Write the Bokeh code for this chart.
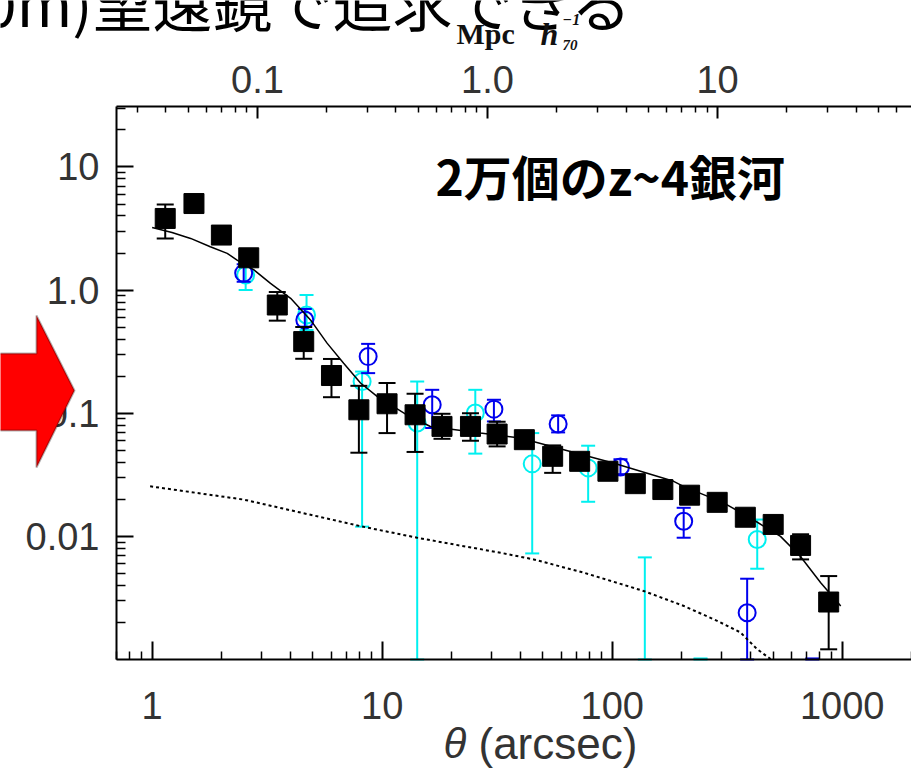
import math
from bokeh.plotting import figure
from bokeh.models import (Range1d, LogAxis, LogScale, FixedTicker, CustomJSTickFormatter,
                          Label, PolyAnnotation)
from bokeh.embed import file_html
from bokeh.resources import INLINE

nan = float("nan")

# ---------------- data ----------------
# black squares: ~20000 z~4 galaxies
theta_sq = [1.14, 1.52, 2.0, 2.63, 3.5, 4.56, 6.02, 7.92, 10.5, 13.9, 18.2, 24.2, 31.6,
            41.5, 55.1, 72.2, 95.8, 126, 166, 217, 286, 379, 501, 659, 873]
w_sq = [3.82, 5.05, 2.80, 1.83, 0.757, 0.382, 0.2025, 0.1067, 0.1194, 0.0972, 0.0782, 0.0782,
        0.0678, 0.061, 0.0447, 0.0407, 0.0338, 0.0268, 0.024, 0.0216, 0.0189, 0.0143,
        0.0125, 0.00844, 0.00293]
w_sq_hi = [4.96, 5.6, 3.1, 2.02, 0.965, 0.502, 0.276, 0.167, 0.176, 0.144, 0.099, 0.100,
           0.0853, 0.0709, 0.0548, 0.0465, 0.0386, 0.0306, 0.0274, 0.0243, 0.0214, 0.0162,
           0.0141, 0.0104, 0.00476]
w_sq_lo = [2.63, 4.55, 2.53, 1.65, 0.565, 0.277, 0.135, 0.0478, 0.069, 0.0485, 0.062, 0.0598,
           0.0538, 0.0526, 0.0328, 0.0356, 0.0296, 0.0235, 0.021, 0.0192, 0.0167, 0.0126,
           0.0111, 0.0065, 0.00121]

# blue open circles
theta_bl = [2.50, 4.61, 8.69, 16.5, 30.6, 58.2, 108.6, 204.5, 386, 741]
w_bl = [1.375, 0.572, 0.2886, 0.1172, 0.108, 0.0817, 0.0366, 0.01328, 0.0024, nan]
w_bl_hi = [1.62, 0.703, 0.366, 0.155, 0.1287, 0.0961, 0.0423, 0.01706, 0.00453, 0.00102]
w_bl_lo = [1.17, 0.505, 0.2118, 0.0759, 0.0858, 0.0699, 0.032, 0.00975, 0.001, 0.001]

# cyan open circles
theta_cy = [2.55, 4.69, 8.18, 14.2, 25.4, 44.9, 78.6, 138.6, 242, 427]
w_cy = [1.326, 0.628, 0.181, 0.0833, 0.1004, 0.0388, 0.036, nan, nan, 0.00944]
w_cy_hi = [1.66, 0.913, 0.218, 0.181, 0.155, 0.069, 0.0545, 0.00675, 0.00102, 0.0137]
w_cy_lo = [1.0, 0.474, 0.0120, 0.001, 0.047, 0.00727, 0.0191, 0.001, 0.001, 0.00546]

# solid model curve
model_theta = [1.0, 1.22, 1.47, 1.79, 2.12, 2.34, 2.77, 3.27, 4.0, 4.88, 5.76, 6.8, 8.05, 9.5,
               12.8, 16.2, 26.7, 39.8, 61.6, 101, 185, 204, 305, 399, 539, 657, 806, 985]
model_w = [3.23, 2.94, 2.63, 2.25, 1.99, 1.75, 1.46, 1.135, 0.858, 0.573, 0.371, 0.255, 0.176,
           0.137, 0.0972, 0.078, 0.069, 0.063, 0.0506, 0.0395, 0.028, 0.0255, 0.0187, 0.0141,
           0.0100, 0.0069, 0.0042, 0.00272]

# dotted curve
dot_theta = [0.98, 2.5, 8.05, 14.2, 19.8, 32.7, 45.6, 75.3, 137, 205, 286, 361, 427, 488]
dot_w = [0.0255, 0.0199, 0.0121, 0.00975, 0.0087, 0.00736, 0.0065, 0.00507, 0.0036, 0.00272,
         0.00206, 0.00166, 0.00121, 0.00101]

x_tick_values = [1, 10, 100, 1000]
x_tick_labels = ["1", "10", "100", "1000"]
y_tick_values = [0.01, 0.1, 1, 10]
y_tick_labels = ["0.01", "0.1", "1.0", "10"]
mpc_tick_values = [0.1, 1, 10]
mpc_tick_labels = ["0.1", "1.0", "10"]
ARCSEC_PER_MPC = 28.7

title_text = "(30m)望遠鏡で追求できる"
note_text = "2万個のz~4銀河"
x_title_sym = "θ"
x_title_unit = "(arcsec)"

# ---------------- layout ----------------
W, H = 911, 775
AX_L, AX_R, AX_T, AX_B = 116, 911, 106, 659     # box drawn by the axes, in canvas pixels
TH_LO, TH_HI = 0.7, 2000.0
W_LO, W_HI = 0.001, 31.0

LX_PX = (math.log10(TH_HI) - math.log10(TH_LO)) / (AX_R - AX_L)
LY_PX = (math.log10(W_HI) - math.log10(W_LO)) / (AX_B - AX_T)
X_FULL = (10 ** (math.log10(TH_LO) - AX_L * LX_PX), 10 ** (math.log10(TH_HI) + (W - AX_R) * LX_PX))
Y_FULL = (10 ** (math.log10(W_LO) - (H - AX_B) * LY_PX), 10 ** (math.log10(W_HI) + AX_T * LY_PX))


def ref(rx, ry):
    """canvas pixel -> data coordinates (for annotations only)"""
    return (10 ** (math.log10(X_FULL[0]) + rx * LX_PX),
            10 ** (math.log10(Y_FULL[1]) - ry * LY_PX))


def minor_ticks(lo, hi):
    out = []
    for e in range(-4, 5):
        for m in range(2, 10):
            v = m * 10.0 ** e
            if lo <= v <= hi:
                out.append(v)
    return out


def formatter(vals, labs):
    return CustomJSTickFormatter(args=dict(vals=vals, labs=labs), code="""
        for (let i = 0; i < vals.length; i++) {
            if (Math.abs(Math.log10(tick) - Math.log10(vals[i])) < 1e-6) return labs[i];
        }
        return "";
    """)


p = figure(width=W, height=H, x_axis_type="log", y_axis_type="log",
           x_range=Range1d(*X_FULL), y_range=Range1d(*Y_FULL),
           x_axis_location=None, y_axis_location=None, title=None,
           output_backend="svg", toolbar_location=None,
           min_border_left=0, min_border_right=0, min_border_top=0, min_border_bottom=0)
p.grid.visible = False
p.outline_line_color = None
p.background_fill_color = "white"
p.border_fill_color = "white"

p.extra_x_ranges = {"mpc": Range1d(X_FULL[0] / ARCSEC_PER_MPC, X_FULL[1] / ARCSEC_PER_MPC)}
p.extra_x_scales = {"mpc": LogScale()}

TICK_FONT = "Liberation Sans"
TEXT_GREY = "#333333"


def style_axis(ax, major_in, minor_in, standoff):
    ax.axis_line_width = 2
    ax.axis_line_color = "black"
    ax.major_tick_in = major_in
    ax.major_tick_out = 0
    ax.minor_tick_in = minor_in
    ax.minor_tick_out = 0
    ax.major_tick_line_width = 2
    ax.minor_tick_line_width = 1.5
    ax.major_tick_line_color = "black"
    ax.minor_tick_line_color = "black"
    ax.major_label_text_font = TICK_FONT
    ax.major_label_text_font_size = "38px"
    ax.major_label_text_color = TEXT_GREY
    ax.major_label_standoff = standoff


bottom = LogAxis(fixed_location=W_LO, bounds=(TH_LO, TH_HI),
                 ticker=FixedTicker(ticks=x_tick_values, minor_ticks=minor_ticks(TH_LO, TH_HI)),
                 formatter=formatter(x_tick_values, x_tick_labels))
style_axis(bottom, 18, 8, 32)
p.add_layout(bottom, "below")

left = LogAxis(fixed_location=TH_LO, bounds=(W_LO, W_HI),
               ticker=FixedTicker(ticks=y_tick_values, minor_ticks=minor_ticks(W_LO, W_HI)),
               formatter=formatter(y_tick_values, y_tick_labels))
style_axis(left, 17, 9, 17)
p.add_layout(left, "left")

mlo, mhi = TH_LO / ARCSEC_PER_MPC, TH_HI / ARCSEC_PER_MPC
top = LogAxis(x_range_name="mpc", fixed_location=W_HI, bounds=(mlo, mhi),
              ticker=FixedTicker(ticks=mpc_tick_values, minor_ticks=minor_ticks(mlo, mhi)),
              formatter=formatter(mpc_tick_values, mpc_tick_labels))
style_axis(top, 12, 6, 14)
p.add_layout(top, "above")

CYAN = "#00f0f0"
BLUE = "#0000ee"


def errbars(xs, lo, hi, color, cap, lw=2):
    p.segment(x0=xs, y0=lo, x1=xs, y1=hi, line_color=color, line_width=lw)
    p.scatter(x=xs, y=hi, marker="dash", size=cap, line_color=color, line_width=lw)
    p.scatter(x=xs, y=lo, marker="dash", size=cap, line_color=color, line_width=lw)


# cyan
errbars(theta_cy, w_cy_lo, w_cy_hi, CYAN, 14)
p.scatter(x=theta_cy, y=w_cy, marker="circle", size=17, fill_color=None,
          line_color=CYAN, line_width=2)
# blue
errbars(theta_bl, w_bl_lo, w_bl_hi, BLUE, 14)
p.scatter(x=theta_bl, y=w_bl, marker="circle", size=17, fill_color=None,
          line_color=BLUE, line_width=2)
# black squares
errbars(theta_sq, w_sq_lo, w_sq_hi, "black", 17)
p.scatter(x=theta_sq, y=w_sq, marker="square", size=20, fill_color="black",
          line_color="black", line_width=1)

# curves
p.line(model_theta, model_w, line_color="black", line_width=1.5)
p.line(dot_theta, dot_w, line_color="black", line_width=2, line_dash="3 3")

# ---------------- texts ----------------
x, y = ref(632, 0)
p.add_layout(Label(x=x, y=y, text=title_text, text_font="Noto Sans CJK JP",
                   text_font_size="60px", text_align="right", text_baseline="alphabetic",
                   text_color="black"))

x, y = ref(435, 174)
p.add_layout(Label(x=x, y=y, text=note_text, text_font="Noto Sans CJK JP",
                   text_font_style="bold", text_font_size="48px", text_align="left",
                   text_baseline="alphabetic", text_color="black"))

# top axis title: Mpc h_70^-1
x, y = ref(456, 33)
p.add_layout(Label(x=x, y=y, text="Mpc", text_font="Liberation Serif", text_font_style="bold",
                   text_font_size="30px", text_baseline="alphabetic", text_color="#111"))
x, y = ref(540, 33)
p.add_layout(Label(x=x, y=y, text="h", text_font="Liberation Serif",
                   text_font_style="bold italic", text_font_size="32px",
                   text_baseline="alphabetic", text_color="#111"))
x, y = ref(562, 19)
p.add_layout(Label(x=x, y=y, text="−1", text_font="Liberation Serif",
                   text_font_style="bold italic", text_font_size="16px",
                   text_baseline="alphabetic", text_color="#111"))
x, y = ref(562, 44)
p.add_layout(Label(x=x, y=y, text="70", text_font="Liberation Serif",
                   text_font_style="bold italic", text_font_size="15px",
                   text_baseline="alphabetic", text_color="#111"))

# bottom axis title
x, y = ref(443, 743)
p.add_layout(Label(x=x, y=y, text=x_title_sym, text_font=TICK_FONT, text_font_style="italic",
                   text_font_size="42px", text_baseline="alphabetic", text_color=TEXT_GREY))
x, y = ref(478, 743)
p.add_layout(Label(x=x, y=y, text=x_title_unit, text_font=TICK_FONT,
                   text_font_size="44px", text_baseline="alphabetic", text_color=TEXT_GREY))

# red arrow
arrow_px = [(-60, 353), (36, 353), (36, 315), (74, 390), (36, 467), (36, 430), (-60, 430)]
ax_, ay_ = zip(*[ref(a, b) for a, b in arrow_px])
p.add_layout(PolyAnnotation(xs=list(ax_), ys=list(ay_), xs_units="data", ys_units="data",
                            fill_color="#ff0000", fill_alpha=1.0, line_color="black",
                            line_width=2, level="overlay"))

open("out.html", "w").write(file_html(p, INLINE))
